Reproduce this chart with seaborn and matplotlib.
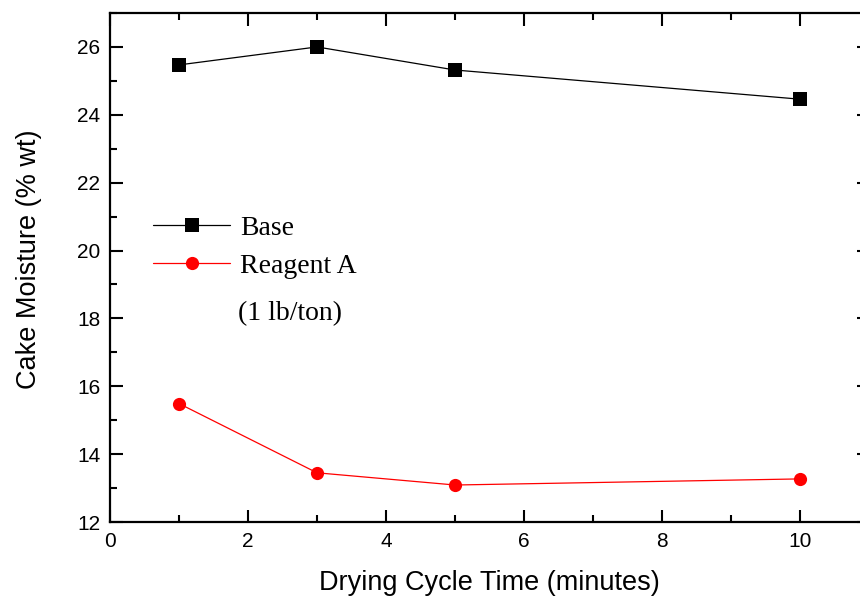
import matplotlib
matplotlib.use('Agg')
import matplotlib.pyplot as plt
import numpy as np
import pandas as pd
import seaborn as sns
from matplotlib.ticker import MultipleLocator

sns.set_style('ticks')
plt.rcParams['font.family'] = ['Liberation Sans', 'DejaVu Sans']
plt.rcParams['text.color'] = 'black'
plt.rcParams['axes.labelcolor'] = 'black'
plt.rcParams['xtick.color'] = 'black'
plt.rcParams['ytick.color'] = 'black'
plt.rcParams['axes.edgecolor'] = 'black'

cycle_time = [1, 3, 5, 10]
base = [25.47, 26.0, 25.32, 24.46]
reagent_a = [15.49, 13.45, 13.09, 13.27]

df = pd.DataFrame({
    'time': cycle_time * 2,
    'moisture': base + reagent_a,
    'series': ['Base'] * 4 + ['Reagent A'] * 4,
})

fig = plt.figure(figsize=(8.6, 5.99), dpi=100)
ax = fig.add_axes([110 / 860, 1 - 522 / 599, 759 / 860, 509 / 599])

sns.lineplot(data=df, x='time', y='moisture', hue='series', style='series',
             palette={'Base': 'black', 'Reagent A': 'red'},
             markers={'Base': 's', 'Reagent A': 'o'}, dashes=False,
             markersize=9.5, markeredgewidth=0, linewidth=0.9, ax=ax)

ax.set_xlim(0, 11)
ax.set_ylim(12, 27)
ax.xaxis.set_major_locator(MultipleLocator(2))
ax.xaxis.set_minor_locator(MultipleLocator(1))
ax.yaxis.set_major_locator(MultipleLocator(2))
ax.yaxis.set_minor_locator(MultipleLocator(1))
ax.tick_params(which='both', direction='in', top=True, right=True, width=1.5,
               labelsize=15, pad=7)
ax.tick_params(which='major', length=9)
ax.tick_params(which='minor', length=5)
for s in ax.spines.values():
    s.set_linewidth(1.6)

ax.set_xlabel('Drying Cycle Time (minutes)', fontsize=19.5)
ax.set_ylabel('Cake Moisture (% wt)', fontsize=19.5)
ax.xaxis.set_label_coords(0.5, -0.094)
ax.yaxis.set_label_coords(-0.09, 0.517)

handles, labels = ax.get_legend_handles_labels()
leg = ax.legend(handles, labels, loc='upper left', bbox_to_anchor=(0.024, 0.651),
                frameon=False, handlelength=2.77, handletextpad=0.36,
                labelspacing=0.45, prop={'family': 'Liberation Serif', 'size': 20})
ax.text(0.1686, 0.41, '(1 lb/ton)', transform=ax.transAxes,
        family='Liberation Serif', fontsize=20, va='center', ha='left')

fig.savefig('out.png', dpi=100)
